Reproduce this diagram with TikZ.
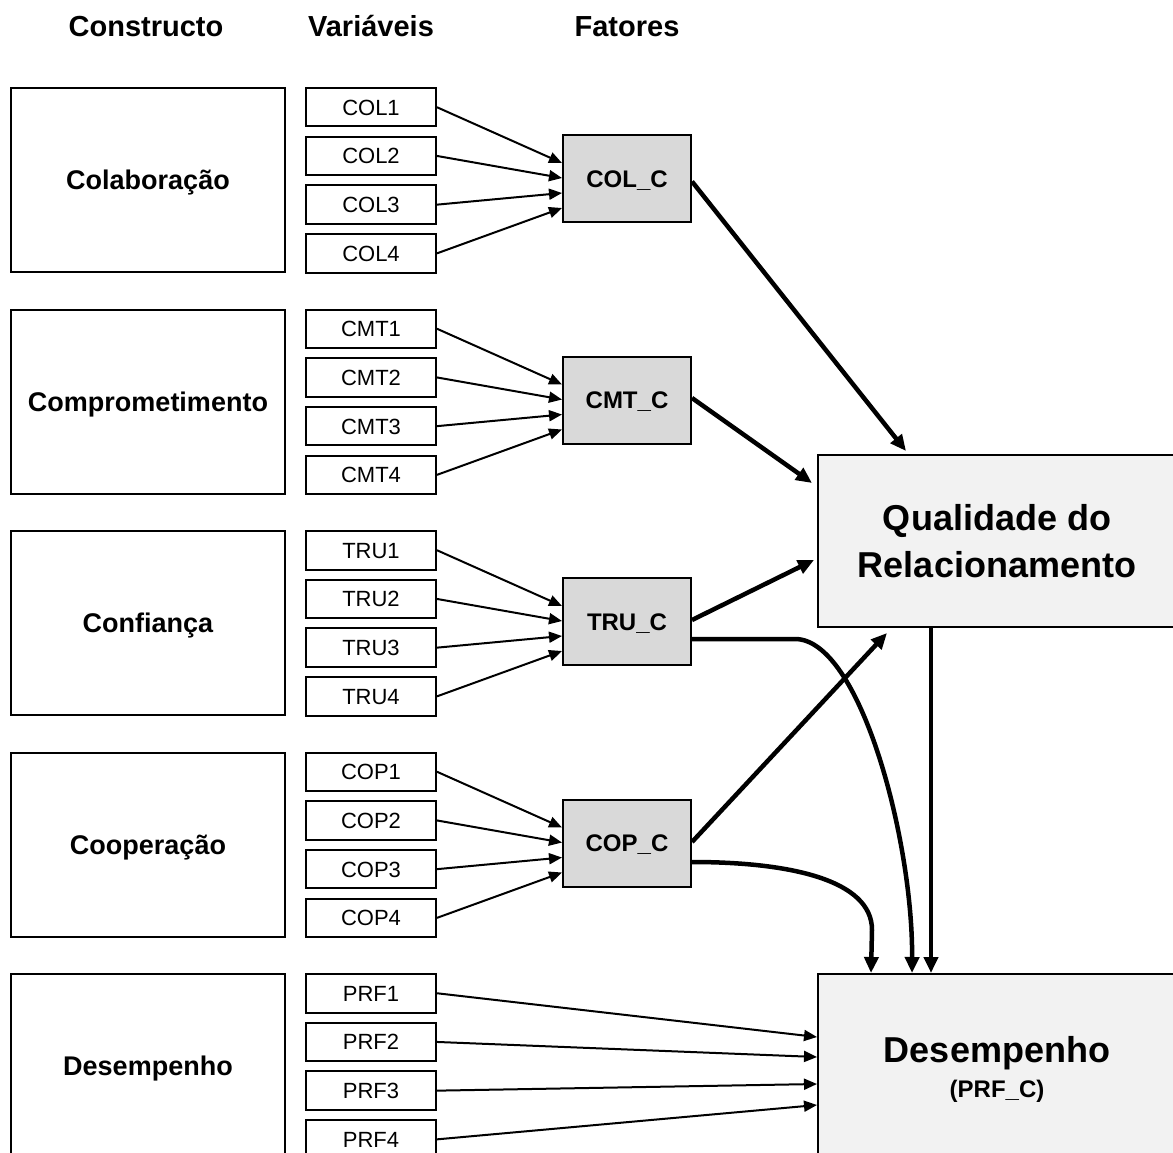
\documentclass[tikz,border=0pt]{standalone}
\usepackage{fontspec}
\setmainfont{Liberation Sans}
\usetikzlibrary{arrows.meta,calc}
\definecolor{factgrey}{RGB}{217,217,217}
\definecolor{biggrey}{RGB}{242,242,242}
\tikzset{
  hdr/.style={font=\fontsize{29}{34}\selectfont\bfseries, anchor=base, inner sep=0pt},
  cbox/.style={draw, line width=2pt, minimum width=274pt, minimum height=184pt, inner sep=0pt,
    text height=19.3pt, text depth=0pt, font=\fontsize{27}{32}\selectfont\bfseries},
  vbox/.style={draw, line width=2pt, minimum width=130pt, minimum height=38.5pt, inner sep=0pt,
    text height=15.8pt, text depth=0pt, font=\fontsize{22}{26}\selectfont},
  facbox/.style={draw, line width=2pt, fill=factgrey, minimum width=128pt, minimum height=87pt, inner sep=0pt,
    text height=17.2pt, text depth=0pt, font=\fontsize{24}{28}\selectfont\bfseries},
  bigbox/.style={draw, line width=2pt, fill=biggrey, inner sep=0pt, align=center},
  varr/.style={line width=2pt, -{Triangle[length=13pt,width=11pt]}},
  farr/.style={line width=4.5pt, -{Triangle[length=16pt,width=14pt]}},
}
\begin{document}
\begin{tikzpicture}[x=1pt,y=-1pt]
\useasboundingbox (0,0) rectangle (1173,1153);
\fill[white] (0,0) rectangle (1173,1153);

% headers
\node[hdr] (h1) at (146,37) {Constructo};
\node[hdr] (h2) at (371,37) {Variáveis};
\node[hdr] (h3) at (627,37) {Fatores};

% big boxes
\node[bigbox, minimum width=358pt, minimum height=172pt,
      font=\fontsize{36}{47}\selectfont\bfseries] (qual) at (997,541) {Qualidade do\\Relacionamento};
\node[bigbox, minimum width=358pt, minimum height=190pt,
      font=\fontsize{36}{35}\selectfont\bfseries] (desemp) at (997,1069)
      {Desempenho\\{\fontsize{24}{28}\selectfont (PRF\_C)}};

% constructs and variables
\foreach \g/\pre/\lab in {0/COL/Colaboração,1/CMT/Comprometimento,2/TRU/Confiança,3/COP/Cooperação,4/PRF/Desempenho}{
  \pgfmathsetmacro\gtop{88+221.5*\g}
  \node[cbox] (c\pre) at (148,\gtop+92) {\lab};
  \foreach \i in {1,...,4}{
    \pgfmathsetmacro\vy{\gtop+19.25+48.7*(\i-1)}
    \node[vbox] (\pre\i) at (371,\vy) {\pre\i};
  }
}

% factors and their incoming arrows
\foreach \g/\pre in {0/COL,1/CMT,2/TRU,3/COP}{
  \pgfmathsetmacro\gtop{88+221.5*\g}
  \node[facbox] (\pre f) at (627,\gtop+90.5) {\pre\_C};
  \foreach \i/\dy in {1/-15.5,2/-0.5,3/14.5,4/29.5}{
    \draw[varr] (\pre\i.east) -- ($(\pre f.west)+(0,\dy)$);
  }
}

% PRF arrows
\foreach \i/\dy in {1/-32,2/-12,3/15,4/36}{
  \draw[varr] (PRF\i.east) -- ($(desemp.west)+(0,\dy)$);
}

% factor -> quality
\draw[farr] ($(COLf.east)+(0,3)$) -- ($(qual.north west)+(89,-3)$);
\draw[farr] ($(CMTf.east)+(0,-2)$) -- ($(qual.west)+(-5,-58)$);
\draw[farr] ($(TRUf.east)+(0,-1.5)$) -- ($(qual.west)+(-3,19)$);
\draw[farr] ($(COPf.east)+(0,-1)$) -- ($(qual.south west)+(70,5)$);

% to performance
\draw[farr] ($(qual.south west)+(114,0)$) -- ($(desemp.north west)+(114,0)$);
\draw[farr] ($(TRUf.east)+(0,17.5)$) -- (795,639) .. controls (860,639) and (913,840) .. ($(desemp.north west)+(95,0)$);
\draw[farr] ($(COPf.east)+(0,19)$) .. controls (790,862) and (872,880) .. (872,930) -- ($(desemp.north west)+(54,0)$);
\end{tikzpicture}
\end{document}
